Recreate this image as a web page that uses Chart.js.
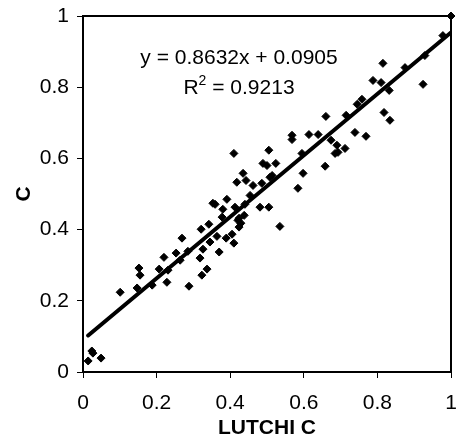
<!DOCTYPE html>
<html>
<head>
<meta charset="utf-8">
<script src="https://cdn.jsdelivr.net/npm/chart.js@4/dist/chart.umd.min.js"></script>
<style>
  html, body { margin: 0; padding: 0; background: #fff; }
  #wrap { width: 460px; height: 442px; }
</style>
</head>
<body>
<div id="wrap"><canvas id="c" width="460" height="442"></canvas></div>
<script>
// Observed data (LUTCHI C vs C)
const lutchiC = [0.014,0.024,0.027,0.049,0.101,0.147,0.152,0.155,0.188,0.207,0.220,0.228,0.231,0.253,0.264,0.269,0.285,0.288,0.318,0.321,0.323,0.326,0.337,0.342,0.345,0.353,0.359,0.364,0.370,0.378,0.380,0.389,0.391,0.405,0.410,0.413,0.424,0.429,0.438,0.440,0.454,0.481,0.505,0.410,0.435,0.418,0.443,0.462,0.486,0.489,0.500,0.505,0.524,0.508,0.421,0.535,0.584,0.598,0.595,0.568,0.568,0.614,0.639,0.660,0.674,0.690,0.685,0.693,0.712,0.658,0.715,0.745,0.758,0.739,0.769,0.815,0.788,0.810,0.832,0.818,0.834,0.875,0.924,0.929,0.978,1.000,0.514,0.424];
const cValues = [0.031,0.059,0.053,0.039,0.224,0.236,0.292,0.272,0.244,0.289,0.322,0.252,0.286,0.334,0.314,0.376,0.339,0.241,0.320,0.401,0.272,0.345,0.289,0.415,0.365,0.474,0.471,0.381,0.337,0.435,0.457,0.376,0.485,0.387,0.362,0.463,0.407,0.418,0.440,0.471,0.496,0.463,0.463,0.614,0.558,0.533,0.538,0.524,0.530,0.586,0.580,0.623,0.586,0.547,0.426,0.409,0.516,0.558,0.614,0.665,0.653,0.667,0.667,0.718,0.651,0.637,0.614,0.617,0.628,0.578,0.721,0.752,0.766,0.673,0.662,0.867,0.819,0.813,0.791,0.729,0.707,0.855,0.808,0.889,0.945,1.000,0.552,0.432];

// Linear trendline shown on the chart
const trendSlope = 0.8632;
const trendIntercept = 0.0905;
const trendR2 = 0.9213;
const trendXRange = [0.014, 1.0];

const xTickLabels = ['0', '0.2', '0.4', '0.6', '0.8', '1'];
const yTickLabels = ['0', '0.2', '0.4', '0.6', '0.8', '1'];

const xTitle = 'LUTCHI C';
const yTitle = 'C';

const FONT = '"Liberation Sans", Arial, sans-serif';

const scatterPts = lutchiC.map((x, i) => ({ x: x, y: cValues[i] }));
const trendPts = trendXRange.map(x => ({ x: x, y: trendSlope * x + trendIntercept }));

const fmtTick = (labels) => function (value) {
  const idx = Math.round(value / 0.2);
  return labels[idx] !== undefined ? labels[idx] : '';
};

const framePlugin = {
  id: 'frame',
  afterDatasetsDraw(chart) {
    const { ctx, chartArea: a } = chart;
    ctx.save();
    ctx.strokeStyle = '#000';
    ctx.lineWidth = 2;
    ctx.beginPath();
    ctx.moveTo(a.left, a.top);
    ctx.lineTo(a.right, a.top);
    ctx.lineTo(a.right, a.bottom);
    ctx.stroke();
    ctx.restore();
  },
  afterDraw(chart) {
    const { ctx } = chart;
    ctx.save();
    ctx.fillStyle = '#000';
    ctx.textBaseline = 'alphabetic';
    ctx.textAlign = 'left';
    ctx.font = '21px ' + FONT;
    const eq = 'y = ' + trendSlope.toFixed(4) + 'x + ' + trendIntercept.toFixed(4);
    const cx = 239;
    const w1 = ctx.measureText(eq).width;
    ctx.fillText(eq, cx - w1 / 2, 64);
    // R² line
    const rPart = 'R';
    const rest = ' = ' + trendR2.toFixed(4);
    const wR = ctx.measureText(rPart).width;
    const wRest = ctx.measureText(rest).width;
    ctx.font = '14px ' + FONT;
    const wSup = ctx.measureText('2').width;
    const total = wR + wSup + wRest;
    let x0 = cx - total / 2;
    ctx.font = '21px ' + FONT;
    ctx.fillText(rPart, x0, 94);
    ctx.font = '14px ' + FONT;
    ctx.fillText('2', x0 + wR, 85);
    ctx.font = '21px ' + FONT;
    ctx.fillText(rest, x0 + wR + wSup, 94);
    ctx.restore();
  }
};

new Chart(document.getElementById('c'), {
  type: 'scatter',
  data: {
    datasets: [
      {
        label: 'data',
        data: scatterPts,
        pointStyle: 'rectRot',
        pointRadius: 4,
        pointBackgroundColor: '#000',
        pointBorderColor: '#000',
        pointBorderWidth: 1,
        clip: false,
        order: 2
      },
      {
        type: 'line',
        label: 'trend',
        data: trendPts,
        borderColor: '#000',
        borderWidth: 4,
        borderCapStyle: 'round',
        pointRadius: 0,
        fill: false,
        order: 1
      }
    ]
  },
  plugins: [framePlugin],
  options: {
    responsive: false,
    animation: false,
    events: [],
    layout: { padding: { top: 16, right: 9, left: 0, bottom: 0 } },
    plugins: { legend: { display: false }, tooltip: { enabled: false } },
    scales: {
      x: {
        type: 'linear',
        min: 0, max: 1,
        ticks: { stepSize: 0.2, color: '#000', font: { family: FONT, size: 21 }, padding: 13, maxRotation: 0, callback: fmtTick(xTickLabels) },
        grid: { drawOnChartArea: false, drawTicks: true, tickLength: 6, tickColor: '#000', tickWidth: 1 },
        border: { display: true, color: '#000', width: 2 },
        title: { display: true, text: xTitle, color: '#000', font: { family: FONT, size: 21, weight: 'bold' }, padding: { top: 0, bottom: 1 } },
        afterFit(scale) { scale.height = 70; scale.paddingLeft = 0; scale.paddingRight = 0; }
      },
      y: {
        type: 'linear',
        min: 0, max: 1,
        ticks: { stepSize: 0.2, color: '#000', font: { family: FONT, size: 21 }, padding: 8, callback: fmtTick(yTickLabels) },
        grid: { drawOnChartArea: false, drawTicks: true, tickLength: 6, tickColor: '#000', tickWidth: 1 },
        border: { display: true, color: '#000', width: 2 },
        title: { display: true, text: yTitle, color: '#000', font: { family: FONT, size: 21, weight: 'bold' }, padding: { top: 12, bottom: 0 } },
        afterFit(scale) { scale.width = 83; scale.paddingTop = 0; scale.paddingBottom = 0; }
      }
    }
  }
});
</script>
</body>
</html>
